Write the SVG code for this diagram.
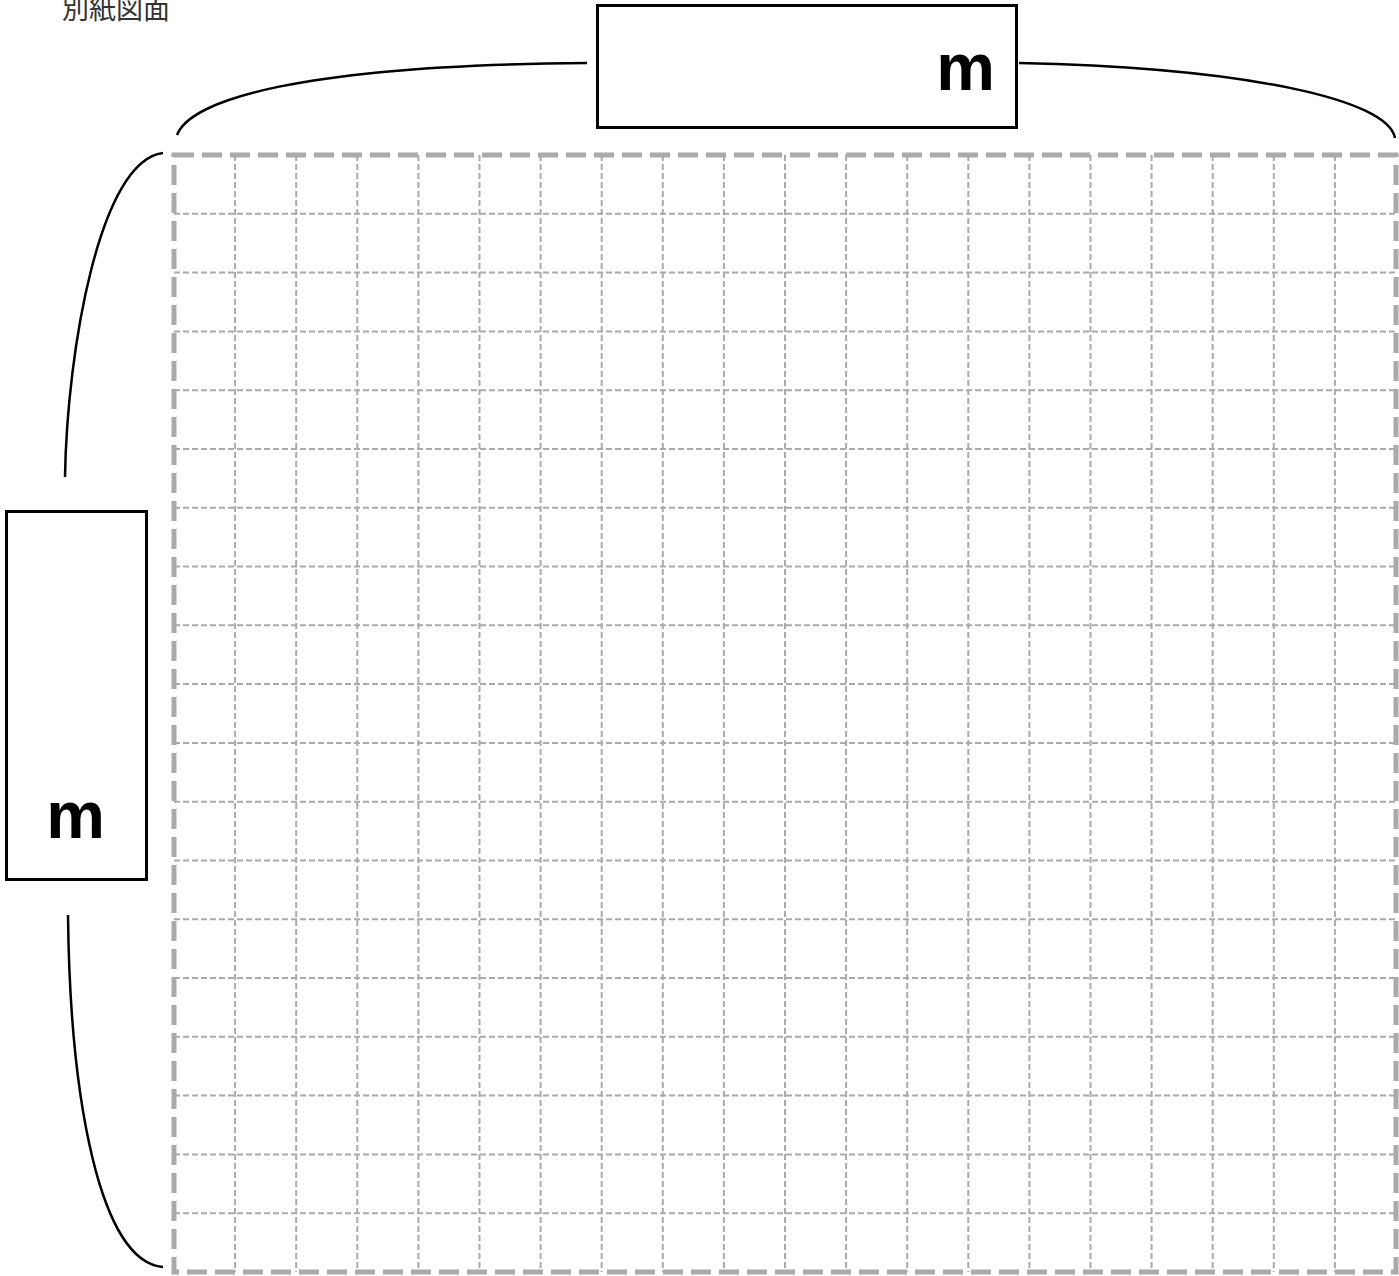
<svg xmlns="http://www.w3.org/2000/svg" width="1399" height="1276" viewBox="0 0 1399 1276">
<style>
.g{stroke:#aaa;stroke-width:2;stroke-dasharray:6 3;fill:none}
.o{stroke:#aaa;stroke-width:5;stroke-dasharray:20 8;fill:none}
.b{stroke:#000;stroke-width:3;fill:#fff}
.c{stroke:#000;stroke-width:2.5;fill:none}
.m{font-family:"Liberation Sans",Arial,sans-serif;font-weight:bold;font-size:66px;fill:#000}
</style>
<rect width="1399" height="1276" fill="#fff"/>
<text x="62" y="19" font-family="'Noto Sans CJK JP',sans-serif" font-size="27" fill="#333">別紙図面</text>
<g id="grid">
<path class="g" d="M235.1,155V1272M296.2,155V1272M357.3,155V1272M418.4,155V1272M479.5,155V1272M540.6,155V1272M601.7,155V1272M662.8,155V1272M723.9,155V1272M785,155V1272M846.1,155V1272M907.2,155V1272M968.3,155V1272M1029.4,155V1272M1090.5,155V1272M1151.6,155V1272M1212.7,155V1272M1273.8,155V1272M1334.9,155V1272"/>
<path class="g" d="M174,213.8H1396M174,272.6H1396M174,331.4H1396M174,390.2H1396M174,449H1396M174,507.7H1396M174,566.5H1396M174,625.3H1396M174,684.1H1396M174,742.9H1396M174,801.7H1396M174,860.5H1396M174,919.3H1396M174,978.1H1396M174,1036.8H1396M174,1095.6H1396M174,1154.4H1396M174,1213.2H1396"/>
<rect class="o" x="174" y="155" width="1222" height="1117"/>
</g>
<g id="connectors">
<path class="c" d="M587,63C300,65 190,100 177,135"/>
<path class="c" d="M1019,63C1250,68 1388,100 1395,138"/>
<path class="c" d="M163,153C100,160 67,350 65,477"/>
<path class="c" d="M68,915C70,1100 100,1262 163,1267"/>
</g>
<g id="top-box">
<rect class="b" x="597.5" y="5.5" width="419" height="122"/>
<text class="m" x="995" y="90" text-anchor="end">m</text>
</g>
<g id="left-box">
<rect class="b" x="6.5" y="511.5" width="140" height="368"/>
<text class="m" x="105" y="838" text-anchor="end">m</text>
</g>
</svg>
